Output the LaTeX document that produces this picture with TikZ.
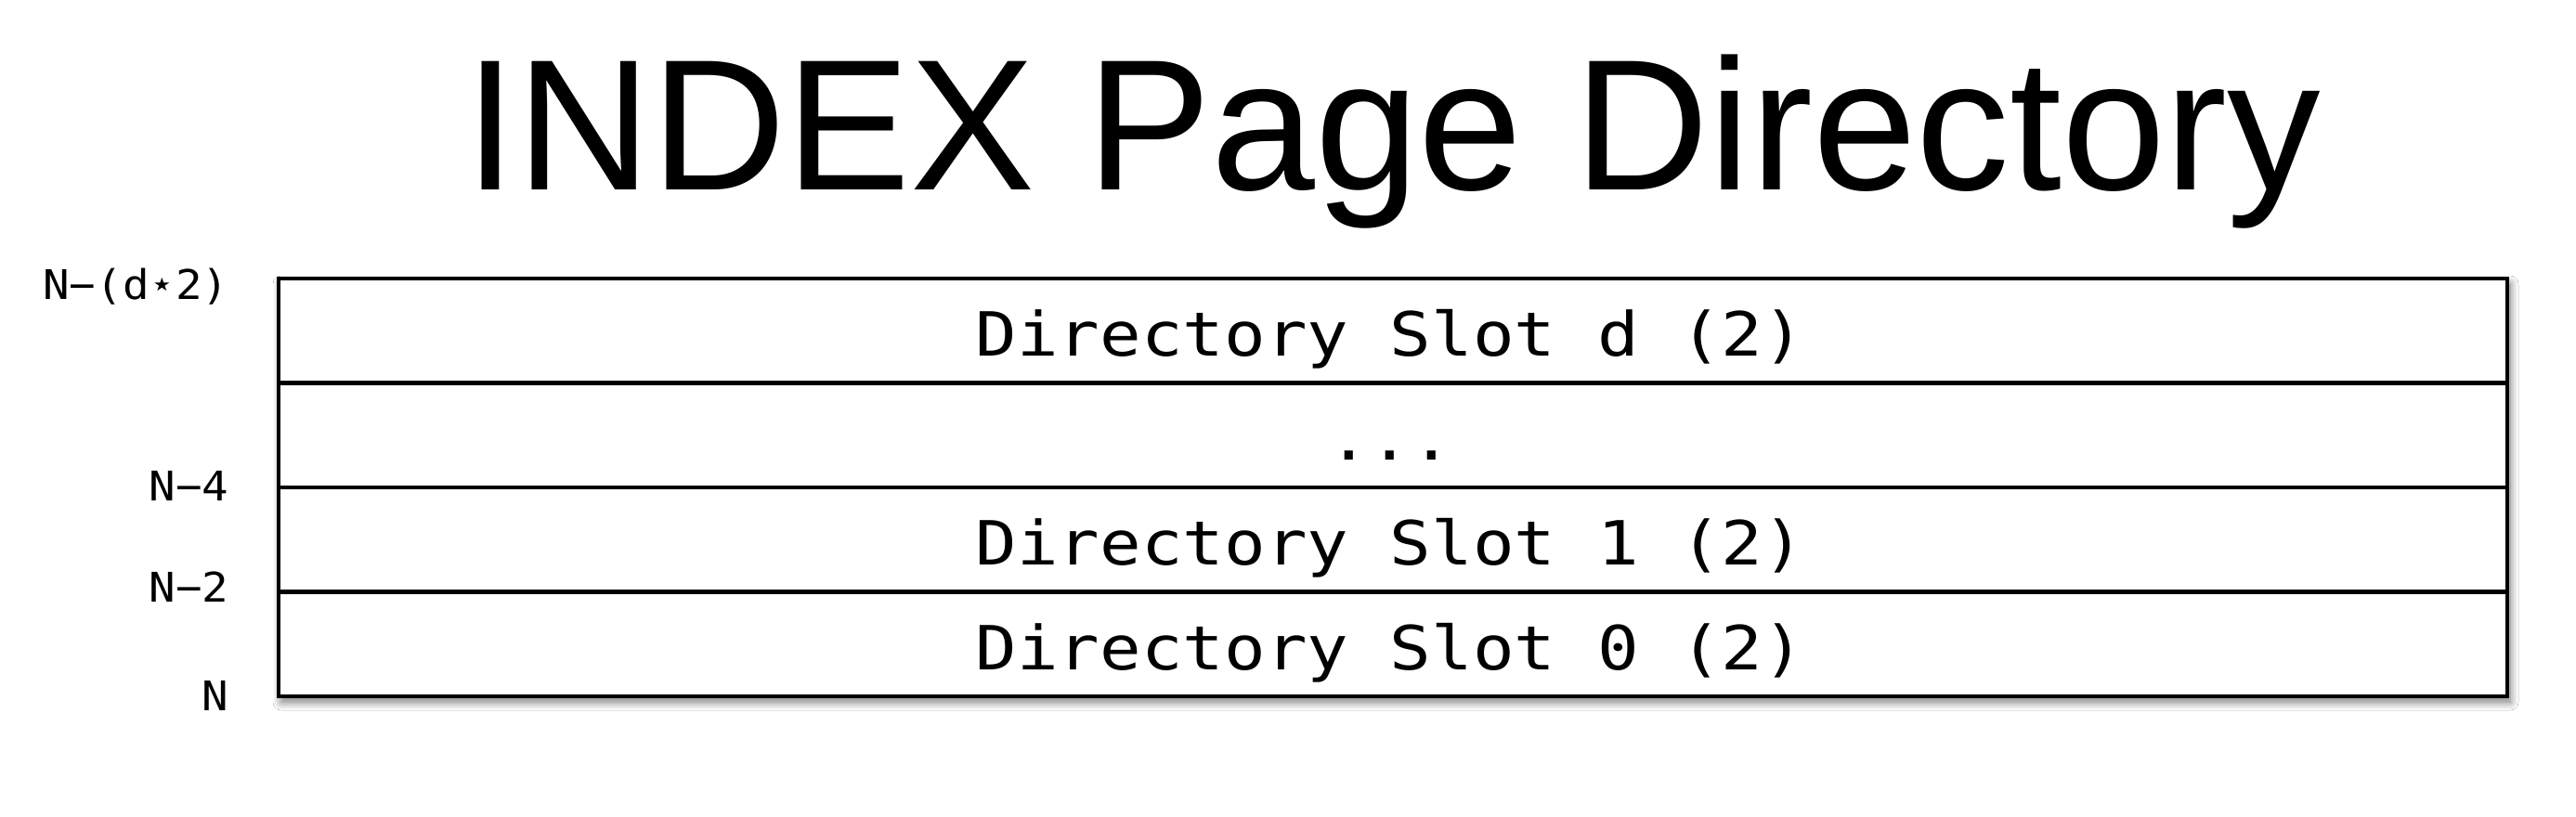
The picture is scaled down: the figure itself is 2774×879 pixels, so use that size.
\documentclass[tikz,border=0pt]{standalone}
\usepackage{fontspec}
\setmainfont{Liberation Sans}
\newfontfamily\slotfont[FakeStretch=1.13]{DejaVu Sans Mono}
\newfontfamily\labfont[FakeStretch=1.08]{DejaVu Sans Mono}
\usetikzlibrary{shadows.blur}
\tikzset{
  px/.style={x=0.5pt,y=-0.5pt},
  rowline/.style={line width=2.2pt,black},
  boxframe/.style={line width=2.4pt,black,fill=white,
    blur shadow={shadow xshift=1.5pt,shadow yshift=-3pt,shadow blur radius=4.5pt,shadow blur steps=12,shadow opacity=55}},
  slottext/.style={font=\slotfont\fontsize{32.8pt}{36pt}\selectfont,anchor=base,inner sep=0pt},
  labtext/.style={font=\labfont\fontsize{22pt}{24pt}\selectfont,anchor=base east,inner sep=0pt},
  titletext/.style={font=\fontsize{100.5pt}{110pt}\selectfont,anchor=base,inner sep=0pt}
}
\begin{document}
\begin{tikzpicture}[px]
\useasboundingbox (0,0) rectangle (2774,879);
\fill[white] (0,0) rectangle (2774,879);
\node[titletext] (title) at (1500,204) {INDEX Page Directory};
\coordinate (tl) at (300,300);
\coordinate (br) at (2700,750);
\draw[boxframe] (tl) rectangle (br);
\coordinate (l1) at (300,412.5); \coordinate (r1) at (2700,412.5);
\coordinate (l2) at (300,525);   \coordinate (r2) at (2700,525);
\coordinate (l3) at (300,637.5); \coordinate (r3) at (2700,637.5);
\draw[rowline] (l1) -- (r1);
\draw[rowline] (l2) -- (r2);
\draw[rowline] (l3) -- (r3);
\node[slottext] (sd) at (1497,383) {Directory Slot d (2)};
\node[slottext] (sdots) at (1497,495) {...};
\node[slottext] (s1) at (1497,608) {Directory Slot 1 (2)};
\node[slottext] (s0) at (1497,721) {Directory Slot 0 (2)};
\node[labtext] (ld) at (247,322) {N−(d⋆2)};
\node[labtext] (l4) at (247,539) {N−4};
\node[labtext] (l2t) at (247,648) {N−2};
\node[labtext] (l0) at (247,765) {N};
\end{tikzpicture}
\end{document}
